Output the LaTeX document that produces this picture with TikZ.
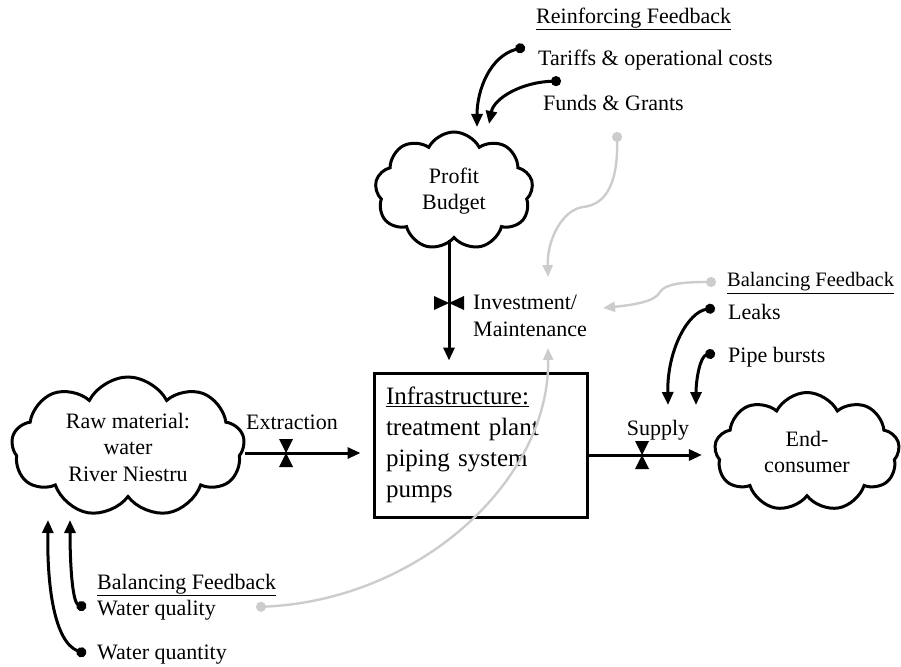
\documentclass[tikz,border=0pt]{standalone}
\usepackage{fontspec}
\setmainfont{Liberation Serif}
\usetikzlibrary{shapes.symbols,arrows.meta}
\definecolor{grayline}{RGB}{204,204,204}
\tikzset{
  vvalve/.pic={\fill (-7,-14) -- (7,-14) -- (-7,14) -- (7,14) -- cycle;},
  hvalve/.pic={\fill (-15,-7) -- (-15,7) -- (15,-7) -- (15,7) -- cycle;}
}
\begin{document}
\begin{tikzpicture}[x=1pt,y=-1pt,
  lbl/.style={inner sep=0pt, anchor=west, font=\fontsize{22}{27}\selectfont},
  cloudbox/.style={cloud, cloud puffs=9, cloud puff arc=125, cloud ignores aspect, draw, line width=3pt,
    align=center, inner sep=0pt, font=\fontsize{22}{26.5}\selectfont},
  flow/.style={line width=3pt, -{Triangle[length=13pt,width=11pt]}},
  fb/.style={line width=3pt, {Circle[length=10pt]}-{Triangle[length=13pt,width=11pt]}},
  fbgray/.style={line width=2.4pt, draw=grayline, {Circle[length=10pt]}-{Triangle[length=12pt,width=10pt]}}
]
\useasboundingbox (0,0) rectangle (901,666);

% stocks
\node[cloudbox, minimum width=158pt, minimum height=118pt] (profit) at (454,191) {Profit\\Budget};
\node[cloudbox, minimum width=233pt, minimum height=140pt] (raw) at (128,447) {Raw material:\\water\\River Niestru};
\node[cloudbox, minimum width=185pt, minimum height=119pt] (end) at (807,452) {End-\\consumer};
\node[draw, line width=3pt, minimum width=213pt, minimum height=144pt, text width=189pt,
  inner xsep=12pt, align=left, font=\fontsize{25}{31}\selectfont] (box) at (480.5,445)
  {\underline{Infrastructure:}\\treatment plant\\piping system\\pumps};

% flows with valves
\coordinate (exv) at (286,453);
\draw[flow, shorten >=12pt] (raw.east |- exv) -- (box.west |- exv);
\pic at (exv) {vvalve};
\node[lbl, anchor=center] (extraction) at (292,422) {Extraction};

\coordinate (spv) at (642,455);
\draw[flow, shorten >=12pt] (box.east |- spv) -- (end.west |- spv);
\pic at (spv) {vvalve};
\node[lbl, anchor=center] (supply) at (658,430) {Supply};

\coordinate (inv) at (449,303);
\draw[flow, shorten >=11pt] (profit.south -| inv) -- (box.north -| inv);
\pic at (inv) {hvalve};
\node[lbl, align=left] (invest) at (473,316) {Investment/\\Maintenance};

% reinforcing feedback
\node[lbl] (rf) at (536,19) {\underline{Reinforcing Feedback}};
\node[lbl] (tariffs) at (538,60) {Tariffs \& operational costs};
\node[lbl] (funds) at (543,103) {Funds \& Grants};
\coordinate (dTar) at (525,47);
\coordinate (dFun) at (561,81);
\coordinate (dFunG) at (617,132);
\coordinate (tTar) at (477,127);
\coordinate (tFun) at (489,124);
\draw[fb] (dTar) .. controls (490,56) and (477,90) .. (tTar);
\draw[fb] (dFun) .. controls (522,82) and (494,98) .. (tFun);
\coordinate (gFunMid) at (583,207);
\coordinate (tInvTop) at (548,277);
\draw[fbgray] (dFunG) .. controls (618,190) and (602,205) .. (gFunMid)
  .. controls (562,210) and (547,240) .. (tInvTop);

% balancing feedback, supply side
\node[lbl, font=\fontsize{20.5}{25}\selectfont] (bfr) at (727,283) {\underline{Balancing Feedback}};
\node[lbl] (leaks) at (728,312) {Leaks};
\node[lbl] (pipe) at (728,357) {Pipe bursts};
\coordinate (dBal) at (716,282);
\coordinate (gBalMid) at (660,292);
\coordinate (tInvRight) at (603,308);
\draw[fbgray] (dBal) .. controls (682,282) and (665,284) .. (gBalMid)
  .. controls (655,302) and (632,305) .. (tInvRight);
\coordinate (dLeak) at (715,308);
\coordinate (dPipe) at (715,353);
\coordinate (tLeak) at (668,405);
\coordinate (tPipe) at (696,405);
\draw[fb] (dLeak) .. controls (688,312) and (667,350) .. (tLeak);
\draw[fb] (dPipe) .. controls (700,356) and (696,380) .. (tPipe);

% balancing feedback, raw material side
\node[lbl] (bfl) at (97,585) {\underline{Balancing Feedback}};
\node[lbl] (wql) at (97,610) {Water quality};
\node[lbl] (wqn) at (97,655) {Water quantity};
\coordinate (dWql) at (86,608);
\coordinate (dWqn) at (86,654);
\coordinate (tWql) at (70,520);
\coordinate (tWqn) at (48,520);
\draw[fb] (dWql) .. controls (72,602) and (70,560) .. (tWql);
\draw[fb] (dWqn) .. controls (54,642) and (47,585) .. (tWqn);
\coordinate (dWqlG) at (256,607);
\coordinate (tInvBottom) at (548,348);
\draw[fbgray] (dWqlG) .. controls (420,600) and (550,480) .. (tInvBottom);
\end{tikzpicture}
\end{document}
